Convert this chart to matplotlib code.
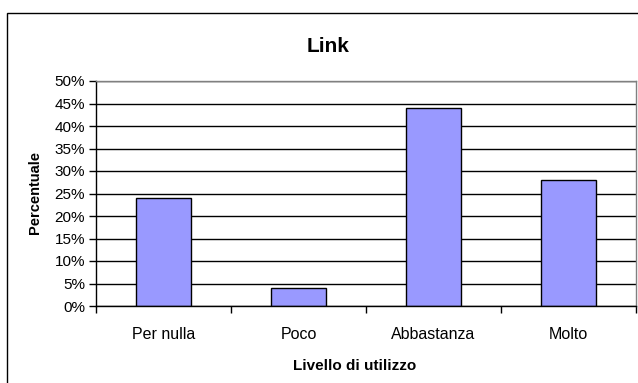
import matplotlib
matplotlib.use("Agg")
import matplotlib.pyplot as plt
from matplotlib.patches import Rectangle
from matplotlib.ticker import MultipleLocator, PercentFormatter, FixedLocator, NullFormatter

plt.rcParams['font.family'] = ['Liberation Sans', 'DejaVu Sans']

categories = ["Per nulla", "Poco", "Abbastanza", "Molto"]
values = [24, 4, 44, 28]

W, H = 638, 383
fig = plt.figure(figsize=(W / 100, H / 100), dpi=100)
fig.patch.set_facecolor("white")

# outer chart border (cut off at right and bottom in the original)
fig.patches.append(Rectangle((7 / W, -0.05), 1.1, 1 - 13 / H + 0.05,
                             transform=fig.transFigure, fill=False,
                             edgecolor="black", linewidth=1.0))

ax = fig.add_axes([96 / W, 1 - 306 / H, (636 - 96) / W, (306 - 81) / H])
x = range(len(categories))
ax.bar(x, values, width=0.41, color="#9999FF", edgecolor="black", linewidth=1.0, zorder=3)

ax.set_xlim(-0.5, len(categories) - 0.5)
ax.set_ylim(0, 50)
ax.yaxis.set_major_locator(MultipleLocator(5))
ax.yaxis.set_major_formatter(PercentFormatter(decimals=0))
ax.grid(axis="y", color="black", linewidth=1.0, zorder=0)

ax.set_xticks(list(x))
ax.set_xticklabels(categories)
ax.tick_params(axis="x", which="major", length=0, pad=15, labelsize=11.5)
ax.xaxis.set_minor_locator(FixedLocator([i - 0.5 for i in range(len(categories) + 1)]))
ax.xaxis.set_minor_formatter(NullFormatter())
ax.tick_params(axis="x", which="minor", length=5, width=1, color="black")
ax.tick_params(axis="y", length=5, width=1, labelsize=11, pad=3)

for side in ("top", "right"):
    ax.spines[side].set_color("#808080")
for side in ("left", "bottom"):
    ax.spines[side].set_color("black")
for s in ax.spines.values():
    s.set_linewidth(1.0)
    s.set_zorder(4)

fig.text(328 / W, 1 - 47 / H, "Link", ha="center", va="center", fontsize=15, fontweight="bold")
fig.text(355 / W, 1 - 366 / H, "Livello di utilizzo", ha="center", va="center", fontsize=11, fontweight="bold")
fig.text(35 / W, 1 - 193 / H, "Percentuale", ha="center", va="center", rotation=90, fontsize=10.5, fontweight="bold")

fig.savefig("out.png", dpi=100, facecolor="white")
